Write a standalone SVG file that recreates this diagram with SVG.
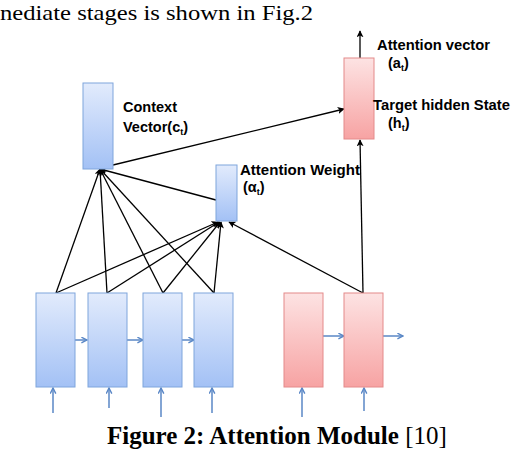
<svg xmlns="http://www.w3.org/2000/svg" width="512" height="452" viewBox="0 0 512 452">
<defs>
<linearGradient id="gb" x1="0" y1="0" x2="0" y2="1">
<stop offset="0" stop-color="#e2ebfc"/>
<stop offset="1" stop-color="#a3c1f5"/>
</linearGradient>
<linearGradient id="gr" x1="0" y1="0" x2="0" y2="1">
<stop offset="0" stop-color="#fde3e3"/>
<stop offset="1" stop-color="#f7a3a3"/>
</linearGradient>
<marker id="ak" viewBox="0 0 10 10" refX="9" refY="5" markerWidth="7" markerHeight="7" markerUnits="userSpaceOnUse" orient="auto">
<path d="M0,0 L10,5 L0,10 L2.5,5 z" fill="#000"/>
</marker>
<marker id="ab" viewBox="0 0 10 10" refX="9" refY="5" markerWidth="7" markerHeight="7" markerUnits="userSpaceOnUse" orient="auto">
<path d="M1,1 L9,5 L1,9" fill="none" stroke="#5a87c6" stroke-width="2"/>
</marker>
<style>
.b{fill:url(#gb);stroke:#7fa5dc;stroke-width:1}
.r{fill:url(#gr);stroke:#e48a8a;stroke-width:1}
.k{stroke:#000;stroke-width:1.3;fill:none;marker-end:url(#ak)}
.s{stroke:#5a87c6;stroke-width:1.5;fill:none;marker-end:url(#ab)}
.lbl{font-family:"Liberation Sans",Arial,sans-serif;font-weight:bold;font-size:14.5px;fill:#000}
.sub{font-size:9px}
.cap{font-family:"Liberation Serif","Times New Roman",serif;fill:#000}
</style>
</defs>
<text class="cap" x="0" y="19.5" font-size="21.5" textLength="313" lengthAdjust="spacingAndGlyphs">nediate stages is shown in Fig.2</text>
<g id="connectors">
<line class="k" x1="56" y1="293" x2="100" y2="169"/>
<line class="k" x1="107" y1="293" x2="100" y2="169"/>
<line class="k" x1="163" y1="293" x2="100" y2="169"/>
<line class="k" x1="214" y1="293" x2="100" y2="169"/>
<line class="k" x1="216" y1="200" x2="100" y2="169"/>
<line class="k" x1="56" y1="293" x2="218" y2="222"/>
<line class="k" x1="107" y1="293" x2="219" y2="222"/>
<line class="k" x1="163" y1="293" x2="220" y2="222"/>
<line class="k" x1="214" y1="293" x2="221" y2="222"/>
<line class="k" x1="363" y1="293" x2="229" y2="222"/>
<line class="k" x1="363" y1="293" x2="360" y2="140"/>
<line class="k" x1="113" y1="165" x2="344" y2="109"/>
<line class="k" x1="360" y1="58" x2="360" y2="31"/>
<line class="s" x1="75" y1="340" x2="87" y2="340"/>
<line class="s" x1="127" y1="340" x2="143" y2="340"/>
<line class="s" x1="182" y1="340" x2="194" y2="340"/>
<line class="s" x1="323" y1="336" x2="344" y2="336"/>
<line class="s" x1="383" y1="336" x2="403" y2="336"/>
<line class="s" x1="53" y1="413" x2="53" y2="388"/>
<line class="s" x1="109" y1="408" x2="109" y2="388"/>
<line class="s" x1="161" y1="417" x2="161" y2="388"/>
<line class="s" x1="212" y1="413" x2="212" y2="388"/>
<line class="s" x1="302" y1="417" x2="302" y2="388"/>
<line class="s" x1="364" y1="411" x2="364" y2="388"/>
</g>
<g id="context">
<rect class="b" x="83" y="83" width="30" height="86"/>
<text class="lbl" x="123" y="112" textLength="54" lengthAdjust="spacingAndGlyphs">Context</text>
<text class="lbl" x="123" y="132">Vector(c<tspan class="sub" dy="3">t</tspan><tspan dy="-3">)</tspan></text>
</g>
<g id="attweight">
<rect class="b" x="216" y="165" width="21" height="56"/>
<text class="lbl" x="240" y="175" textLength="120" lengthAdjust="spacingAndGlyphs">Attention Weight</text>
<text class="lbl" x="243" y="192">(α<tspan class="sub" dy="3">t</tspan><tspan dy="-3">)</tspan></text>
</g>
<g id="target">
<rect class="r" x="344" y="58" width="30" height="81"/>
<text class="lbl" x="377" y="50" textLength="113" lengthAdjust="spacingAndGlyphs">Attention vector</text>
<text class="lbl" x="388" y="68">(a<tspan class="sub" dy="3">t</tspan><tspan dy="-3">)</tspan></text>
<text class="lbl" x="373" y="110" textLength="137" lengthAdjust="spacingAndGlyphs">Target hidden State</text>
<text class="lbl" x="388" y="128">(h<tspan class="sub" dy="3">t</tspan><tspan dy="-3">)</tspan></text>
</g>
<g id="enc1"><rect class="b" x="36" y="293" width="39" height="94"/></g>
<g id="enc2"><rect class="b" x="88" y="293" width="39" height="94"/></g>
<g id="enc3"><rect class="b" x="143" y="293" width="39" height="94"/></g>
<g id="enc4"><rect class="b" x="194" y="293" width="39" height="94"/></g>
<g id="dec1"><rect class="r" x="284" y="293" width="39" height="94"/></g>
<g id="dec2"><rect class="r" x="344" y="293" width="39" height="94"/></g>
<text class="cap" x="107" y="444" font-size="25"><tspan font-weight="bold">Figure 2: Attention Module</tspan> [10]</text>
</svg>
